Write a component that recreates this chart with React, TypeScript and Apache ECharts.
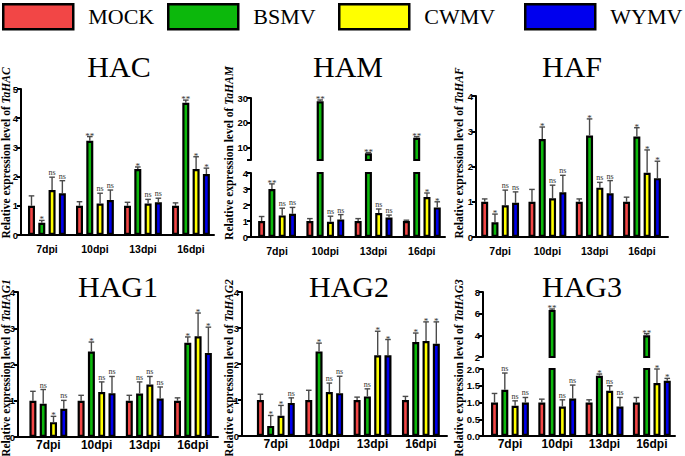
import React, { useEffect, useRef } from 'react';
import * as echarts from 'echarts';

const GROUPS = ['MOCK', 'BSMV', 'CWMV', 'WYMV'];
const COLORS = ['#F24646', '#0CB80C', '#FFFF00', '#0000EE'];
const DAYS = ['7dpi', '10dpi', '13dpi', '16dpi'];

// rows: MOCK, BSMV, CWMV, WYMV ; columns: 7, 10, 13, 16 dpi
const HAC_MEAN = [[1, 1, 1, 1], [0.42, 3.23, 2.26, 4.53], [1.54, 1.08, 1.08, 2.26], [1.43, 1.2, 1.12, 2.09]];
const HAC_SD = [[0.34, 0.14, 0.12, 0.1], [0.08, 0.14, 0.07, 0.09], [0.44, 0.35, 0.14, 0.42], [0.43, 0.34, 0.14, 0.2]];
const HAC_SIG = [['', '', '', ''], ['*', '**', '*', '**'], ['ns', 'ns', 'ns', '*'], ['ns', 'ns', 'ns', '*']];

const HAM_MEAN = [[1, 1, 1, 1], [3.0, 28.7, 7.7, 14.0], [1.35, 0.95, 1.5, 2.5], [1.45, 1.1, 1.22, 1.85]];
const HAM_SD = [[0.28, 0.15, 0.15, 0.05], [0.32, 0.5, 0.3, 0.4], [0.45, 0.35, 0.25, 0.25], [0.4, 0.3, 0.15, 0.35]];
const HAM_SIG = [['', '', '', ''], ['**', '**', '**', '**'], ['ns', 'ns', 'ns', '*'], ['ns', 'ns', 'ns', '*']];

const HAF_MEAN = [[1, 1, 1, 1], [0.42, 2.78, 2.88, 2.85], [0.9, 1.1, 1.4, 1.82], [0.97, 1.27, 1.24, 1.67]];
const HAF_SD = [[0.08, 0.35, 0.08, 0.13], [0.23, 0.34, 0.47, 0.25], [0.43, 0.37, 0.15, 0.65], [0.31, 0.48, 0.36, 0.48]];
const HAF_SIG = [['', '', '', ''], ['*', '*', '*', '*'], ['ns', 'ns', 'ns', '*'], ['ns', 'ns', 'ns', '*']];

const HAG1_MEAN = [[1, 1, 1, 1], [0.92, 2.36, 1.2, 2.6], [0.41, 1.24, 1.45, 2.78], [0.78, 1.21, 1.06, 2.32]];
const HAG1_SD = [[0.26, 0.15, 0.15, 0.08], [0.39, 0.26, 0.32, 0.16], [0.16, 0.28, 0.22, 0.64], [0.23, 0.46, 0.32, 0.71]];
const HAG1_SIG = [['', '', '', ''], ['ns', '*', 'ns', '*'], ['*', 'ns', 'ns', '*'], ['ns', 'ns', 'ns', '*']];

const HAG2_MEAN = [[1, 1, 1, 1], [0.28, 2.35, 1.1, 2.61], [0.56, 1.22, 2.24, 2.64], [0.92, 1.19, 2.24, 2.56]];
const HAG2_SD = [[0.16, 0.27, 0.08, 0.1], [0.29, 0.23, 0.21, 0.25], [0.29, 0.25, 0.67, 0.53], [0.14, 0.47, 0.44, 0.61]];
const HAG2_SIG = [['', '', '', ''], ['*', '*', 'ns', '*'], ['*', 'ns', '*', '*'], ['ns', 'ns', '*', '*']];

const HAG3_MEAN = [[1, 1, 1, 1], [1.38, 6.35, 1.8, 4.0], [0.9, 0.88, 1.35, 1.58], [1.0, 1.12, 0.88, 1.65]];
const HAG3_SD = [[0.27, 0.1, 0.08, 0.15], [0.5, 0.08, 0.05, 0.15], [0.15, 0.2, 0.15, 0.42], [0.15, 0.4, 0.27, 0.07]];
const HAG3_SIG = [['', '', '', ''], ['ns', '**', '*', '**'], ['ns', 'ns', 'ns', '*'], ['ns', 'ns', 'ns', '*']];

const BAR_W = 7;
const BAR_GAP = 0.47;
const PITCH = BAR_W * (1 + BAR_GAP);

type Seg = { top: number; height: number; min: number; max: number; interval?: number; labels?: number[]; ticks?: number[]; decimals?: number };
type Panel = { gene: string; mean: number[][]; sd: number[][]; sig: string[][]; row: number; col: number; left: number; width: number; x0: number; x1: number; titleX: number; segs: Seg[] };

const PANELS: Panel[] = [
  { gene: 'HAC', mean: HAC_MEAN, sd: HAC_SD, sig: HAC_SIG, row: 0, col: 0, left: 21, width: 193, x0: -0.54, x1: 3.48, titleX: 119,
    segs: [{ top: 89, height: 146, min: 0, max: 5, interval: 1 }] },
  { gene: 'HAM', mean: HAM_MEAN, sd: HAM_SD, sig: HAM_SIG, row: 0, col: 1, left: 251, width: 194, x0: -0.54, x1: 3.48, titleX: 348,
    segs: [{ top: 173, height: 64, min: 0, max: 4, interval: 1 }, { top: 98, height: 62, min: 5, max: 30, labels: [10, 20, 30], ticks: [5, 10, 20, 30] }] },
  { gene: 'HAF', mean: HAF_MEAN, sd: HAF_SD, sig: HAF_SIG, row: 0, col: 2, left: 476, width: 192, x0: -0.51, x1: 3.55, titleX: 572,
    segs: [{ top: 96, height: 141, min: 0, max: 4, interval: 1 }] },
  { gene: 'HAG1', mean: HAG1_MEAN, sd: HAG1_SD, sig: HAG1_SIG, row: 1, col: 0, left: 18, width: 200, x0: -0.63, x1: 3.52, titleX: 118,
    segs: [{ top: 292, height: 145, min: 0, max: 4, interval: 1 }] },
  { gene: 'HAG2', mean: HAG2_MEAN, sd: HAG2_SD, sig: HAG2_SIG, row: 1, col: 1, left: 242, width: 205, x0: -0.7, x1: 3.54, titleX: 349,
    segs: [{ top: 292, height: 144, min: 0, max: 4, interval: 1 }] },
  { gene: 'HAG3', mean: HAG3_MEAN, sd: HAG3_SD, sig: HAG3_SIG, row: 1, col: 2, left: 483, width: 192, x0: -0.57, x1: 3.49, titleX: 582,
    segs: [{ top: 369, height: 67, min: 0, max: 2, interval: 0.5, decimals: 1 }, { top: 292, height: 65, min: 2, max: 8, interval: 2 }] },
];

const TITLE_Y = [66.5, 286];
const YTITLE_X = [6, 229, 459];
const YTITLE_Y = [153, 368];
const LEGEND_X = [2, 167, 338, 524];
const XLABEL_SIZE = [10.5, 12];
const XLABEL_MARGIN = [8, 2];

const SERIF = '"Liberation Serif", "Times New Roman", serif';
const SANS = '"Liberation Sans", Arial, sans-serif';
const ERR_COLOR = '#4a4a4a';

function makeErr(labels: string[]) {
  return (params: any, api: any) => {
    const d = api.value(0);
    const k = api.value(1);
    const v = api.value(2);
    const top = api.value(3);
    const p0 = api.coord([d, v]);
    const p1 = api.coord([d, top]);
    const x = p0[0] + (k - 1.5) * PITCH;
    const children: any[] = [
      { type: 'line', shape: { x1: x, y1: p0[1], x2: x, y2: p1[1] }, style: { stroke: ERR_COLOR, lineWidth: 1.4 } },
      { type: 'line', shape: { x1: x - 2.8, y1: p1[1], x2: x + 2.8, y2: p1[1] }, style: { stroke: ERR_COLOR, lineWidth: 1.4 } },
    ];
    const lab = labels[params.dataIndex];
    if (lab) {
      const star = lab !== 'ns';
      children.push({
        type: 'text',
        x,
        y: p1[1] + (star ? 3.5 : -0.5),
        style: { text: lab, textAlign: 'center', textVerticalAlign: 'bottom', fontFamily: SERIF, fontSize: star ? 9 : 8, fill: '#333333' },
      });
    }
    return { type: 'group', children };
  };
}

function buildOption() {
  const grid: any[] = [];
  const xAxis: any[] = [];
  const yAxis: any[] = [];
  const series: any[] = [];
  const graphic: any[] = [];
  let gi = 0;
  PANELS.forEach((p) => {
    const broken = p.segs.length > 1;
    const lowerMax = p.segs[0].max;
    p.segs.forEach((s, si) => {
      const bottom = si === 0;
      grid.push({ left: p.left, top: s.top, width: p.width, height: s.height });
      xAxis.push({
        type: 'value', gridIndex: gi, min: p.x0, max: p.x1, show: bottom,
        splitLine: { show: false },
        axisLine: { show: true, onZero: false, lineStyle: { color: '#000', width: 2 } },
        axisTick: { show: false },
        axisLabel: {
          customValues: [0, 1, 2, 3],
          formatter: (v: number) => DAYS[Math.round(v)] ?? '',
          color: '#000', fontFamily: SANS, fontWeight: 'bold',
          fontSize: XLABEL_SIZE[p.row], margin: XLABEL_MARGIN[p.row],
        },
      });
      const y: any = {
        type: 'value', gridIndex: gi, min: s.min, max: s.max,
        splitLine: { show: false },
        axisLine: { show: true, onZero: false, lineStyle: { color: '#000', width: 2 } },
        axisTick: { show: true, length: 4, lineStyle: { color: '#000', width: 2 } },
        axisLabel: {
          color: '#000', fontFamily: SANS, fontWeight: 'bold', fontSize: 9.5, margin: 3,
          formatter: (v: number) => (s.decimals ? v.toFixed(s.decimals) : String(v)),
        },
      };
      if (s.interval) y.interval = s.interval;
      if (s.labels) y.axisLabel.customValues = s.labels;
      if (s.ticks) y.axisTick.customValues = s.ticks;
      yAxis.push(y);

      GROUPS.forEach((g, k) => {
        series.push({
          type: 'bar', name: g, xAxisIndex: gi, yAxisIndex: gi,
          barWidth: BAR_W, barGap: `${BAR_GAP * 100}%`, clip: true,
          itemStyle: { color: COLORS[k], borderColor: '#000', borderWidth: 2.2 },
          data: p.mean[k].map((v, d) => [d, bottom || v > lowerMax ? v : '-']),
        });
      });

      const items: number[][] = [];
      const labels: string[] = [];
      GROUPS.forEach((_, k) => {
        p.mean[k].forEach((v, d) => {
          const inSeg = bottom ? (!broken || v <= lowerMax) : v > lowerMax;
          if (inSeg) {
            items.push([d, k, v, v + p.sd[k][d]]);
            labels.push(p.sig[k][d]);
          }
        });
      });
      series.push({
        type: 'custom', xAxisIndex: gi, yAxisIndex: gi, data: items, encode: { x: 0, y: 2 },
        itemStyle: { color: '#333333' },
        renderItem: makeErr(labels), z: 5, silent: true,
      });
      gi++;
    });

    graphic.push({
      type: 'text', x: p.titleX, y: TITLE_Y[p.row],
      style: { text: p.gene, fontFamily: SERIF, fontSize: 30, fill: '#000', textAlign: 'center', textVerticalAlign: 'middle' },
    });
    graphic.push({
      type: 'text', x: YTITLE_X[p.col], y: YTITLE_Y[p.row], rotation: Math.PI / 2,
      style: {
        text: `{a|Relative expression level of }{b|Ta${p.gene}}`,
        textAlign: 'center', textVerticalAlign: 'middle',
        rich: {
          a: { fontFamily: SERIF, fontWeight: 'bold', fontSize: 11.5, fill: '#000' },
          b: { fontFamily: SERIF, fontWeight: 'bold', fontStyle: 'italic', fontSize: 11.5, fill: '#000' },
        },
      },
    });
  });

  const legend = GROUPS.map((g, i) => ({
    data: [g], left: LEGEND_X[i], top: 3, padding: 0, itemWidth: 70, itemHeight: 25, icon: 'rect',
    selectedMode: false,
    itemStyle: { color: COLORS[i], borderColor: '#000', borderWidth: 2.5 },
    textStyle: { fontFamily: SERIF, fontSize: 22, color: '#000', padding: [2, 0, 0, 10] },
  }));

  return { animation: false, backgroundColor: '#fff', grid, xAxis, yAxis, series, legend, graphic };
}

export default function App() {
  const ref = useRef<HTMLDivElement>(null);
  useEffect(() => {
    const chart = echarts.init(ref.current!, null, { renderer: 'svg' });
    chart.setOption(buildOption() as any);
    return () => chart.dispose();
  }, []);
  return <div ref={ref} style={{ position: 'fixed', left: 0, top: 0, width: 685, height: 456, background: '#fff' }} />;
}
